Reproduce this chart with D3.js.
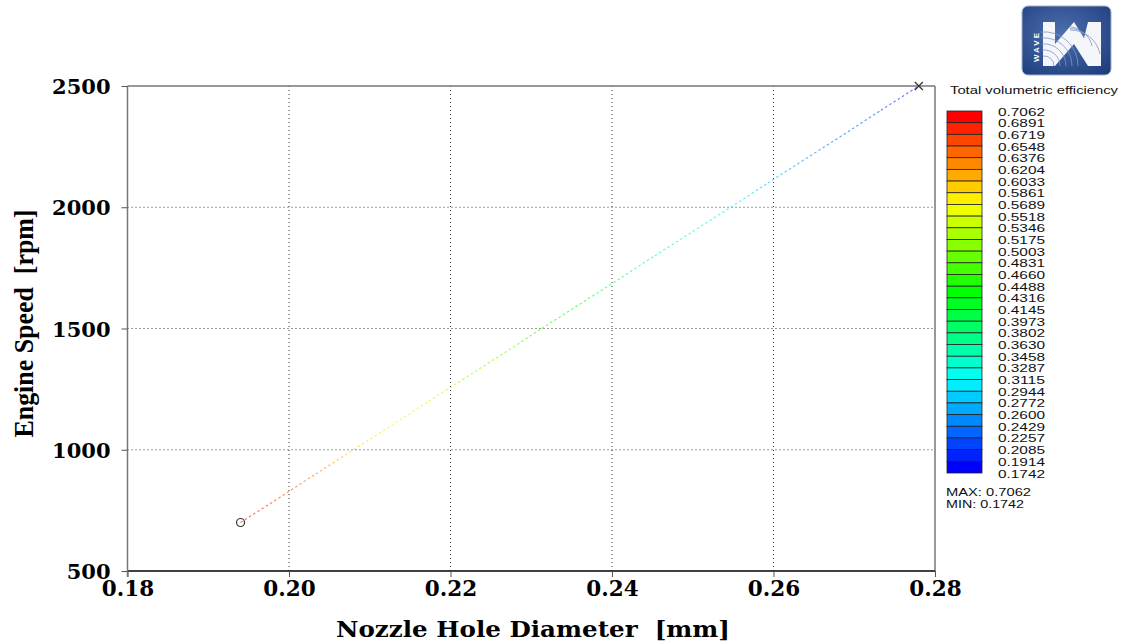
<!DOCTYPE html>
<html>
<head>
<meta charset="utf-8">
<script src="https://cdn.jsdelivr.net/npm/d3@7"></script>
<style>
  html, body { margin: 0; padding: 0; background: #fff; }
  svg { display: block; }
</style>
</head>
<body>
<svg id="chart" width="1123" height="643"></svg>
<script>
// Operating line: engine speed vs nozzle hole diameter, coloured by efficiency
const speedRpm   = [700, 800, 900, 1000, 1100, 1200, 1300, 1400, 1500, 1600, 1700, 1800, 1900, 2000, 2100, 2200, 2300, 2400, 2500];
const diameterMm = [0.1940, 0.1987, 0.2033, 0.2080, 0.2127, 0.2173, 0.2220, 0.2267, 0.2313, 0.2360, 0.2407, 0.2453, 0.2500, 0.2547, 0.2593, 0.2640, 0.2687, 0.2733, 0.2780];
const efficiency = [0.700, 0.680, 0.640, 0.600, 0.570, 0.545, 0.515, 0.490, 0.460, 0.430, 0.400, 0.370, 0.335, 0.300, 0.275, 0.250, 0.230, 0.210, 0.180];

// Colour bar boundaries
const legendLevels = [0.7062, 0.6891, 0.6719, 0.6548, 0.6376, 0.6204, 0.6033, 0.5861, 0.5689, 0.5518,
  0.5346, 0.5175, 0.5003, 0.4831, 0.4660, 0.4488, 0.4316, 0.4145, 0.3973, 0.3802, 0.3630, 0.3458,
  0.3287, 0.3115, 0.2944, 0.2772, 0.2600, 0.2429, 0.2257, 0.2085, 0.1914, 0.1742];
const effMax = 0.7062, effMin = 0.1742;

const xTicks = [0.18, 0.20, 0.22, 0.24, 0.26, 0.28];
const yTicks = [500, 1000, 1500, 2000, 2500];

const svg = d3.select("#chart");
const x = d3.scaleLinear().domain([0.18, 0.28]).range([127.5, 935]);
const y = d3.scaleLinear().domain([500, 2500]).range([571, 86]);

// value -> hue from red (max) to blue (min)
const hueOf = d3.scaleLinear().domain([effMax, effMin]).range([0, 240]).clamp(true);
const colorOf = v => d3.hsl(hueOf(v), 1, 0.5).formatHex();

const serif = "'DejaVu Serif', serif";
const sans = "'Liberation Sans', Arial, sans-serif";

// Grid (dotted)
const grid = svg.append("g");
grid.selectAll("line.gx").data(xTicks.slice(1, -1)).join("line")
  .attr("x1", d => x(d)).attr("x2", d => x(d))
  .attr("y1", y(2500)).attr("y2", y(500))
  .attr("stroke", "#333").attr("stroke-width", 1).attr("stroke-dasharray", "1,3");
grid.selectAll("line.gy").data(yTicks.slice(1, -1)).join("line")
  .attr("x1", x(0.18)).attr("x2", x(0.28))
  .attr("y1", d => y(d)).attr("y2", d => y(d))
  .attr("stroke", "#333").attr("stroke-width", 1).attr("stroke-dasharray", "1,3");

// Frame
svg.append("line").attr("x1", x(0.18)).attr("x2", x(0.28)).attr("y1", y(2500)).attr("y2", y(2500))
  .attr("stroke", "#777").attr("stroke-width", 1.5);
svg.append("line").attr("x1", x(0.28)).attr("x2", x(0.28)).attr("y1", y(2500)).attr("y2", y(500))
  .attr("stroke", "#777").attr("stroke-width", 1.5);

// Axes
const xAxis = d3.axisBottom(x).tickValues(xTicks).tickFormat(d3.format(".2f")).tickSize(6).tickPadding(4);
const yAxis = d3.axisLeft(y).tickValues(yTicks).tickFormat(d3.format("d")).tickSize(6).tickPadding(11);

const gx = svg.append("g").attr("transform", `translate(0,${y(500)})`).call(xAxis);
gx.select(".domain").attr("stroke", "#000").attr("stroke-width", 1.5).attr("d", `M${x(0.18)},0H${x(0.28)}`);
gx.selectAll(".tick line").attr("stroke", "#555").attr("stroke-width", 1);
gx.selectAll(".tick text").attr("font-family", serif).attr("font-weight", "bold")
  .attr("font-size", 21.5).attr("fill", "#000");

const gy = svg.append("g").attr("transform", `translate(${x(0.18)},0)`).call(yAxis);
gy.select(".domain").attr("stroke", "#777").attr("stroke-width", 1.5).attr("d", `M0,${y(2500)}V${y(500) + 6}`);
gy.selectAll(".tick line").attr("stroke", "#555").attr("stroke-width", 1);
gy.selectAll(".tick text").attr("font-family", serif).attr("font-weight", "bold")
  .attr("font-size", 21).attr("fill", "#000").attr("dy", "0.36em");

// Axis titles
svg.append("text").attr("x", 533).attr("y", 637)
  .attr("text-anchor", "middle").attr("font-family", serif).attr("font-weight", "bold")
  .attr("font-size", 23).attr("fill", "#000").attr("xml:space", "preserve")
  .attr("textLength", 394).attr("lengthAdjust", "spacingAndGlyphs")
  .text("Nozzle Hole Diameter  [mm]");

svg.append("text").attr("transform", `translate(33,${(y(2500) + y(500)) / 2 - 5}) rotate(-90)`)
  .attr("text-anchor", "middle").attr("font-family", "'Liberation Serif', 'Times New Roman', serif")
  .attr("font-weight", "bold").attr("font-size", 28).attr("fill", "#000")
  .attr("textLength", 228).attr("lengthAdjust", "spacingAndGlyphs").attr("xml:space", "preserve")
  .text("Engine Speed  [rpm]");

// Coloured operating line, one gradient segment between successive points
const pts = speedRpm.map((s, i) => ({ s, d: diameterMm[i], e: efficiency[i] }));
const defs = svg.append("defs");
const segs = d3.pairs(pts);
segs.forEach(([a, b], i) => {
  const g = defs.append("linearGradient").attr("id", "seg" + i)
    .attr("gradientUnits", "userSpaceOnUse")
    .attr("x1", x(a.d)).attr("y1", y(a.s)).attr("x2", x(b.d)).attr("y2", y(b.s));
  g.append("stop").attr("offset", 0).attr("stop-color", colorOf(a.e));
  g.append("stop").attr("offset", 1).attr("stop-color", colorOf(b.e));
});
svg.append("g").selectAll("line").data(segs).join("line")
  .attr("x1", d => x(d[0].d)).attr("y1", d => y(d[0].s))
  .attr("x2", d => x(d[1].d)).attr("y2", d => y(d[1].s))
  .attr("stroke", (d, i) => `url(#seg${i})`)
  .attr("stroke-width", 1.2).attr("stroke-opacity", 0.6)
  .attr("stroke-dasharray", "2.5,2.5");

// Start / end markers
const first = pts[0], last = pts[pts.length - 1];
svg.append("circle").attr("cx", x(first.d)).attr("cy", y(first.s)).attr("r", 4)
  .attr("fill", "none").attr("stroke", "#333").attr("stroke-width", 1.2);
svg.append("path")
  .attr("d", `M${x(last.d) - 4},${y(last.s) - 4}L${x(last.d) + 4},${y(last.s) + 4}M${x(last.d) - 4},${y(last.s) + 4}L${x(last.d) + 4},${y(last.s) - 4}`)
  .attr("stroke", "#333").attr("stroke-width", 1.2);

// Colour bar legend
const legTop = 111, legBottom = 473, legX = 947, legW = 35;
const ly = d3.scaleLinear().domain([0, legendLevels.length - 1]).range([legTop, legBottom]);
const bands = d3.pairs(legendLevels);
const leg = svg.append("g");
leg.selectAll("rect").data(bands).join("rect")
  .attr("x", legX).attr("width", legW)
  .attr("y", (d, i) => ly(i)).attr("height", (d, i) => ly(i + 1) - ly(i))
  .attr("fill", (d, i) => d3.hsl(i * 240 / (bands.length - 1), 1, 0.5).formatHex())
  .attr("stroke", "#222").attr("stroke-width", 0.8);
leg.selectAll("text.lvl").data(legendLevels).join("text").attr("class", "lvl")
  .attr("x", 998).attr("y", (d, i) => ly(i) + 4.5)
  .attr("font-family", sans).attr("font-size", 11).attr("fill", "#111")
  .attr("textLength", 47).attr("lengthAdjust", "spacingAndGlyphs")
  .text(d => d.toFixed(4));
svg.append("text").attr("x", 950).attr("y", 94)
  .attr("font-family", sans).attr("font-size", 11).attr("fill", "#111")
  .attr("textLength", 168).attr("lengthAdjust", "spacingAndGlyphs")
  .text("Total volumetric efficiency");
svg.append("text").attr("x", 946).attr("y", 496)
  .attr("font-family", sans).attr("font-size", 11).attr("fill", "#111")
  .attr("textLength", 85).attr("lengthAdjust", "spacingAndGlyphs")
  .text("MAX: " + effMax.toFixed(4));
svg.append("text").attr("x", 946).attr("y", 508)
  .attr("font-family", sans).attr("font-size", 11).attr("fill", "#111")
  .attr("textLength", 78).attr("lengthAdjust", "spacingAndGlyphs")
  .text("MIN: " + effMin.toFixed(4));

// Product badge, top right
const logo = svg.append("g").attr("transform", "translate(1022,6)");
const lg = defs.append("radialGradient").attr("id", "logoBg").attr("cx", "45%").attr("cy", "40%").attr("r", "75%");
lg.append("stop").attr("offset", 0).attr("stop-color", "#4d6fae");
lg.append("stop").attr("offset", 1).attr("stop-color", "#1f3d7c");
logo.append("rect").attr("width", 89).attr("height", 69).attr("rx", 6)
  .attr("fill", "url(#logoBg)").attr("stroke", "#9fb0d0").attr("stroke-width", 1);
logo.append("text").attr("transform", "translate(17,56) rotate(-90)")
  .attr("font-family", sans).attr("font-weight", "bold").attr("font-size", 8)
  .attr("fill", "#fff").attr("letter-spacing", 2).text("WAVE");
logo.append("rect").attr("x", 21).attr("y", 16).attr("width", 12).attr("height", 44).attr("fill", "#f4f6fa");
logo.append("path").attr("d", "M33,60 L33,38 L52,16 L62,32 L66,16 L79,16 L79,60 L66,60 L52,38 Z")
  .attr("fill", "#f4f6fa");
const arcs = logo.append("g").attr("fill", "none").attr("stroke", "#7f97c6").attr("stroke-width", 0.8);
[10, 16, 22, 28, 34].forEach(r => {
  arcs.append("path").attr("d", `M${22 - r * 0.1},${60 - r} A${r},${r} 0 0 1 ${22 + r},${60}`);
});
[14, 22, 30].forEach(r => {
  arcs.append("path").attr("d", `M${48},${18 + r * 0.2} A${r},${r} 0 0 1 ${48 + r},${18 + r}`);
});
</script>
</body>
</html>
